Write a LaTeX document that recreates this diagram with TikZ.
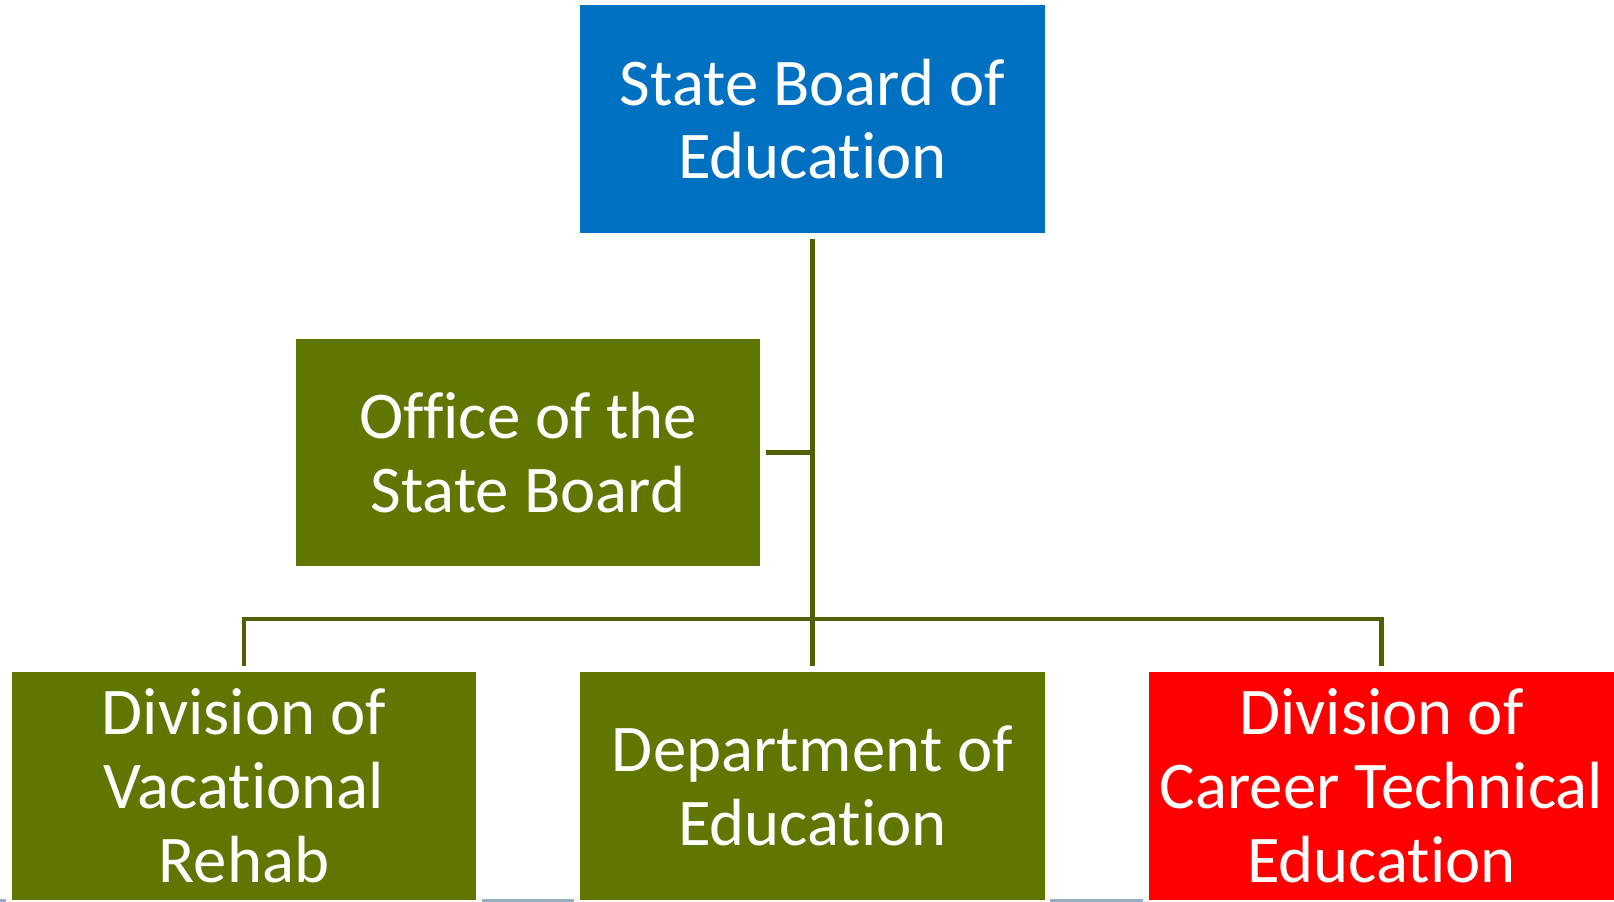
\documentclass[tikz,border=0pt]{standalone}
\usepackage{fontspec}
\setmainfont[Ligatures=NoCommon]{Carlito}
\usetikzlibrary{calc}

\definecolor{boardblue}{RGB}{0,112,192}
\definecolor{officegreen}{RGB}{95,119,0}
\definecolor{linkgreen}{RGB}{78,97,0}
\definecolor{careerred}{RGB}{255,0,0}
\definecolor{stripgray}{RGB}{148,174,198}

\tikzset{
  unitbox/.style={minimum width=9.3cm, minimum height=4.56cm, inner sep=0pt,
    outer sep=3.4pt, text=white, align=center,
    font=\fontsize{38}{42}\selectfont},
  link/.style={draw=linkgreen, line width=2.8pt, line join=miter}
}

\begin{document}
\begin{tikzpicture}[x=0.02cm,y=-0.02cm]
\useasboundingbox (0,0) rectangle (1614,902);
% strips at the bottom edge
\begin{scope}[stripgray]
\fill (0,899) rectangle (6,902);
\fill (482,899) rectangle (574,902);
\fill (1050,899) rectangle (1143,902);
\end{scope}
% the boxes
\node[unitbox, fill=boardblue] (board) at (812.5,119) {State Board of\\Education};
\node[unitbox, fill=officegreen] (office) at (528,452.5) {Office of the\\State Board};
\node[unitbox, fill=officegreen] (rehab) at (244,786) {Division of\\Vacational\\Rehab};
\node[unitbox, fill=officegreen] (dept) at (812.5,786) {Department of\\Education};
\node[unitbox, fill=careerred] (career) at (1381.5,786) {Division of\\Career Technical\\Education};
% the connectors
\coordinate (bus) at (812.5,619);
\draw[link] (board.south) -- (dept.north);
\draw[link] (office.east) -- (office.east -| board.south);
\draw[link] (rehab.north) |- (bus) -| (career.north);
\end{tikzpicture}
\end{document}
